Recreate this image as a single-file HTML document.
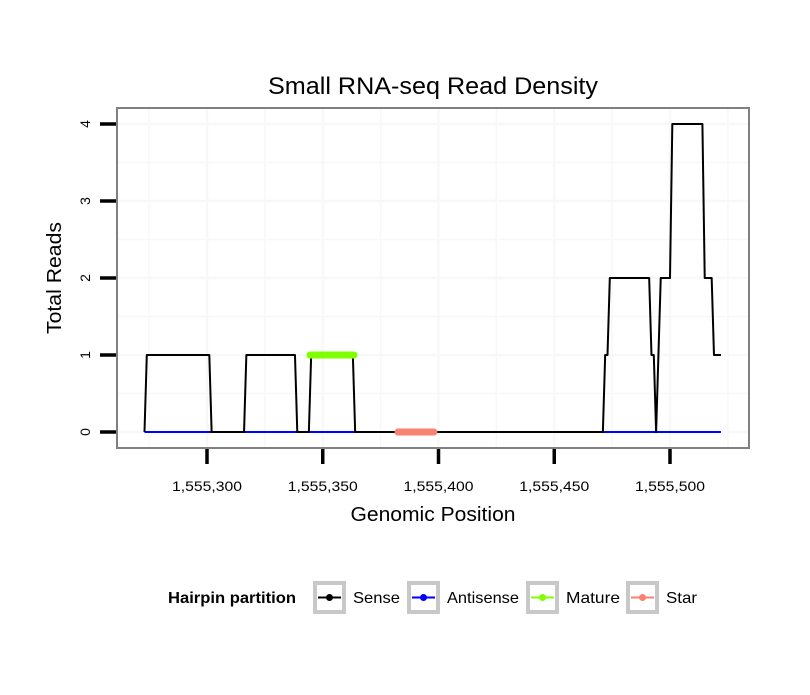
<!DOCTYPE html>
<html><head><meta charset="utf-8"><style>
body{margin:0;background:#fff;font-family:"Liberation Sans",sans-serif}
</style></head><body>
<svg id="chart" width="810" height="690" xmlns="http://www.w3.org/2000/svg" font-family="Liberation Sans, sans-serif">
<rect width="810" height="690" fill="#fff"/>
<text x="433" y="94" text-anchor="middle" font-size="24" textLength="330" lengthAdjust="spacingAndGlyphs">Small RNA-seq Read Density</text>
<g id="grid"></g>
<g id="series"></g>
<rect x="117" y="108" width="632" height="340" fill="none" stroke="#808080" stroke-width="2"/>
<g id="axes"></g>
<text x="433" y="521" text-anchor="middle" font-size="20" textLength="165" lengthAdjust="spacingAndGlyphs">Genomic Position</text>
<text transform="translate(61,278) rotate(-90)" text-anchor="middle" font-size="20" textLength="112" lengthAdjust="spacingAndGlyphs">Total Reads</text>
<g>
<text x="168" y="603" font-size="16" font-weight="bold" textLength="128" lengthAdjust="spacingAndGlyphs">Hairpin partition</text>
<g id="legend"></g>
</g>
</svg>
<script>
const sensePos=[1555273,1555274,1555301,1555302,1555316,1555317,1555338,1555339,1555344,1555345,1555363,1555364,1555471,1555472,1555473,1555474,1555491,1555492,1555493,1555494,1555496,1555500,1555501,1555514,1555515,1555518,1555519,1555522];
const senseVal=[0,1,1,0,0,1,1,0,0,1,1,0,0,1,1,2,2,1,1,0,2,2,4,4,2,2,1,1];
const antiPos=[1555273,1555522];
const antiVal=[0,0];
const maturePos=[1555344.5,1555363.5];
const matureVal=[1,1];
const starPos=[1555382.5,1555398];
const starVal=[0,0];
const xTicks=[1555300,1555350,1555400,1555450,1555500];
const xTickLabels=["1,555,300","1,555,350","1,555,400","1,555,450","1,555,500"];
const yTicks=[0,1,2,3,4];
const legendLabels=["Sense","Antisense","Mature","Star"];
const legendColors=["#000000","#0000ff","#7fff00","#fa8072"];

const X=v=>207+(v-1555300)*2.315;
const Y=v=>432-v*77;
const NS="http://www.w3.org/2000/svg";
function mk(tag,attrs,parent){const e=document.createElementNS(NS,tag);for(const k in attrs)e.setAttribute(k,attrs[k]);parent.appendChild(e);return e;}
const grid=document.getElementById('grid'),ser=document.getElementById('series'),ax=document.getElementById('axes'),leg=document.getElementById('legend');
for(let v=1555275;v<=1555525;v+=25){const g=mk('line',{x1:X(v),x2:X(v),y1:108,y2:448,stroke:'#f8f8f8','stroke-width':v%50===0?2.5:1.5},grid);

}
for(let v=0;v<=4;v+=0.5){const g=mk('line',{x1:117,x2:749,y1:Y(v),y2:Y(v),stroke:'#f8f8f8','stroke-width':v%1===0?2.5:1.5},grid);

}
function path(pos,val,color,w,name,cap){const d=pos.map((p,i)=>(i?'L':'M')+X(p)+','+Y(val[i])).join('');
const e=mk('path',{d:d,fill:'none',stroke:color,'stroke-width':w,'stroke-linecap':cap,'stroke-linejoin':'round'},ser);

}
path(antiPos,antiVal,'#0000ff',2,'antisense-line','butt');
path(sensePos,senseVal,'#000',2,'sense-line','butt');
path(maturePos,matureVal,'#7fff00',7,'mature-line','round');
path(starPos,starVal,'#fa8072',7,'star-line','round');
xTicks.forEach((t,i)=>{const l=mk('line',{x1:X(t),x2:X(t),y1:449,y2:464,stroke:'#000','stroke-width':3.5},ax);


const tx=mk('text',{x:X(t),y:491,'text-anchor':'middle','font-size':14,textLength:70,lengthAdjust:'spacingAndGlyphs'},ax);tx.textContent=xTickLabels[i];

});
yTicks.forEach(t=>{const l=mk('line',{x1:100,x2:116,y1:Y(t),y2:Y(t),stroke:'#000','stroke-width':3.5},ax);


const tx=mk('text',{transform:`translate(90,${Y(t)}) rotate(-90)`,'text-anchor':'middle','font-size':14},ax);tx.textContent=t;

});
const boxX=[315,409,528,628];
const labW=[47,72,54,31];
legendLabels.forEach((lab,i)=>{const g=mk('g',{},leg);


mk('rect',{x:boxX[i],y:583,width:29,height:29,fill:'#fff',stroke:'#c8c8c8','stroke-width':4},g);
mk('line',{x1:boxX[i]+3,x2:boxX[i]+26,y1:597.5,y2:597.5,stroke:legendColors[i],'stroke-width':2},g);
mk('circle',{cx:boxX[i]+14.5,cy:597.5,r:3.5,fill:legendColors[i]},g);
const t=mk('text',{x:boxX[i]+38,y:603,'font-size':16,textLength:labW[i],lengthAdjust:'spacingAndGlyphs'},g);t.textContent=lab;});
</script>
</body></html>
